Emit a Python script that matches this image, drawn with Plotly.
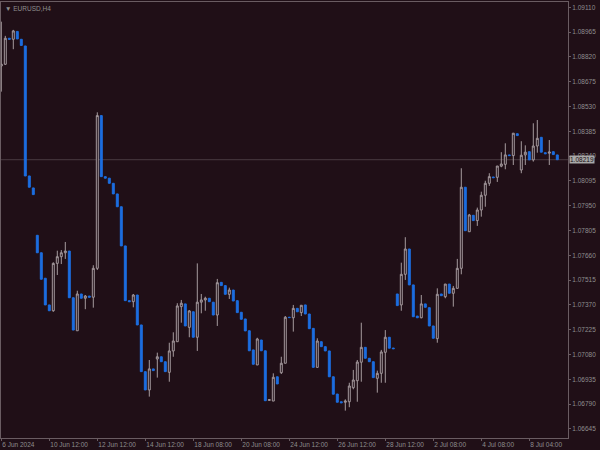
import plotly.graph_objects as go

symbol = "EURUSD,H4"

opens = [1.08767, 1.08777, 1.08929, 1.08923, 1.08969, 1.08923, 1.08884, 1.08124, 1.08054, 1.07777,
         1.07675, 1.07526, 1.07370, 1.07336, 1.07613, 1.07652, 1.07675, 1.07685, 1.07412, 1.07219,
         1.07434, 1.07409, 1.07422, 1.07415, 1.07584, 1.08477, 1.08120, 1.08111, 1.08081, 1.08019,
         1.07944, 1.07715, 1.07395, 1.07389, 1.07428, 1.07253, 1.06980, 1.06873, 1.06996, 1.07054,
         1.07067, 1.07038, 1.06976, 1.07101, 1.07155, 1.07360, 1.07376, 1.07239, 1.07330, 1.07181,
         1.07386, 1.07399, 1.07409, 1.07386, 1.07311, 1.07502, 1.07483, 1.07432, 1.07457, 1.07395,
         1.07327, 1.07288, 1.07219, 1.07107, 1.07019, 1.07165, 1.07102, 1.06812, 1.06808, 1.06950,
         1.06974, 1.07029, 1.07298, 1.07295, 1.07350, 1.07325, 1.07370, 1.07317, 1.07233, 1.07005,
         1.07155, 1.07126, 1.07101, 1.06950, 1.06849, 1.06804, 1.06801, 1.06804, 1.06886, 1.06927,
         1.07035, 1.07122, 1.07058, 1.07038, 1.06941, 1.06970, 1.07093, 1.07181, 1.07118, 1.07434,
         1.07370, 1.07549, 1.07697, 1.07487, 1.07305, 1.07295, 1.07376, 1.07354, 1.07247, 1.07173,
         1.07434, 1.07418, 1.07492, 1.07438, 1.07467, 1.07584, 1.08058, 1.07798, 1.07894, 1.07863,
         1.07925, 1.08011, 1.08081, 1.08118, 1.08116, 1.08181, 1.08192, 1.08247, 1.08243, 1.08371,
         1.08159, 1.08247, 1.08266, 1.08218, 1.08299, 1.08350, 1.08260, 1.08257, 1.08266, 1.08247]

highs = [1.09026, 1.08943, 1.08929, 1.08978, 1.08969, 1.08923, 1.08884, 1.08124, 1.08054, 1.07777,
         1.07675, 1.07526, 1.07370, 1.07619, 1.07687, 1.07691, 1.07738, 1.07685, 1.07412, 1.07453,
         1.07434, 1.07428, 1.07422, 1.07602, 1.08496, 1.08477, 1.08120, 1.08111, 1.08081, 1.08019,
         1.07944, 1.07715, 1.07395, 1.07434, 1.07428, 1.07253, 1.06980, 1.07048, 1.06996, 1.07091,
         1.07067, 1.07038, 1.07149, 1.07210, 1.07380, 1.07399, 1.07376, 1.07340, 1.07330, 1.07613,
         1.07434, 1.07418, 1.07409, 1.07386, 1.07522, 1.07502, 1.07483, 1.07471, 1.07457, 1.07395,
         1.07327, 1.07288, 1.07219, 1.07107, 1.07178, 1.07165, 1.07102, 1.06820, 1.06970, 1.06950,
         1.07067, 1.07305, 1.07300, 1.07370, 1.07350, 1.07368, 1.07370, 1.07317, 1.07233, 1.07175,
         1.07155, 1.07126, 1.07101, 1.06950, 1.06849, 1.06804, 1.06818, 1.06915, 1.06990, 1.07048,
         1.07266, 1.07122, 1.07058, 1.07038, 1.06986, 1.07107, 1.07223, 1.07181, 1.07118, 1.07434,
         1.07617, 1.07766, 1.07697, 1.07487, 1.07305, 1.07428, 1.07376, 1.07354, 1.07247, 1.07467,
         1.07434, 1.07492, 1.07492, 1.07481, 1.07639, 1.08169, 1.08058, 1.07902, 1.07894, 1.07939,
         1.08032, 1.08096, 1.08140, 1.08118, 1.08182, 1.08263, 1.08315, 1.08247, 1.08374, 1.08371,
         1.08327, 1.08303, 1.08266, 1.08432, 1.08451, 1.08350, 1.08260, 1.08334, 1.08266, 1.08247]

lows = [1.08617, 1.08773, 1.08923, 1.08865, 1.08925, 1.08887, 1.08124, 1.08058, 1.08015, 1.07675,
        1.07520, 1.07370, 1.07336, 1.07330, 1.07545, 1.07609, 1.07639, 1.07412, 1.07223, 1.07219,
        1.07409, 1.07345, 1.07415, 1.07354, 1.07574, 1.08120, 1.08111, 1.08081, 1.08019, 1.07944,
        1.07715, 1.07395, 1.07389, 1.07356, 1.07253, 1.06980, 1.06873, 1.06834, 1.06986, 1.06945,
        1.07038, 1.06980, 1.06921, 1.07067, 1.07155, 1.07266, 1.07247, 1.07181, 1.07181, 1.07101,
        1.07321, 1.07336, 1.07389, 1.07311, 1.07247, 1.07483, 1.07432, 1.07405, 1.07393, 1.07325,
        1.07286, 1.07218, 1.07102, 1.07023, 1.07019, 1.07102, 1.06810, 1.06810, 1.06808, 1.06908,
        1.06966, 1.07029, 1.07294, 1.07214, 1.07330, 1.07305, 1.07317, 1.07231, 1.07005, 1.07005,
        1.07126, 1.07101, 1.06950, 1.06848, 1.06801, 1.06798, 1.06752, 1.06772, 1.06877, 1.06804,
        1.06921, 1.07058, 1.07038, 1.06945, 1.06857, 1.06915, 1.06915, 1.07117, 1.07114, 1.07366,
        1.07336, 1.07516, 1.07487, 1.07301, 1.07295, 1.07292, 1.07356, 1.07247, 1.07175, 1.07149,
        1.07424, 1.07409, 1.07438, 1.07360, 1.07467, 1.07549, 1.07804, 1.07798, 1.07863, 1.07832,
        1.07886, 1.07944, 1.08066, 1.08114, 1.08089, 1.08175, 1.08163, 1.08243, 1.08188, 1.08360,
        1.08140, 1.08188, 1.08218, 1.08208, 1.08260, 1.08263, 1.08254, 1.08188, 1.08249, 1.08219]

closes = [1.08777, 1.08929, 1.08923, 1.08972, 1.08925, 1.08887, 1.08124, 1.08058, 1.08015, 1.07675,
          1.07520, 1.07370, 1.07336, 1.07613, 1.07652, 1.07675, 1.07685, 1.07412, 1.07223, 1.07434,
          1.07409, 1.07422, 1.07415, 1.07584, 1.08477, 1.08120, 1.08111, 1.08081, 1.08019, 1.07944,
          1.07715, 1.07395, 1.07389, 1.07428, 1.07253, 1.06980, 1.06873, 1.06996, 1.06986, 1.07067,
          1.07038, 1.06980, 1.07101, 1.07159, 1.07364, 1.07380, 1.07247, 1.07335, 1.07181, 1.07386,
          1.07399, 1.07409, 1.07389, 1.07311, 1.07500, 1.07483, 1.07432, 1.07457, 1.07393, 1.07325,
          1.07286, 1.07218, 1.07102, 1.07023, 1.07171, 1.07102, 1.06810, 1.06816, 1.06947, 1.06908,
          1.07029, 1.07298, 1.07296, 1.07350, 1.07330, 1.07368, 1.07317, 1.07231, 1.07005, 1.07159,
          1.07126, 1.07101, 1.06950, 1.06848, 1.06801, 1.06798, 1.06808, 1.06896, 1.06931, 1.07036,
          1.07122, 1.07058, 1.07038, 1.06945, 1.06970, 1.07095, 1.07181, 1.07117, 1.07114, 1.07366,
          1.07549, 1.07697, 1.07487, 1.07301, 1.07295, 1.07376, 1.07356, 1.07247, 1.07175, 1.07432,
          1.07424, 1.07492, 1.07438, 1.07467, 1.07584, 1.08058, 1.07804, 1.07896, 1.07863, 1.07925,
          1.08011, 1.08081, 1.08120, 1.08114, 1.08182, 1.08194, 1.08247, 1.08243, 1.08374, 1.08360,
          1.08245, 1.08263, 1.08218, 1.08299, 1.08344, 1.08263, 1.08254, 1.08264, 1.08249, 1.08219]

time_label_bars = [0, 12, 24, 36, 48, 60, 72, 84, 96, 108, 120, 132]
time_labels = ["6 Jun 2024", "10 Jun 12:00", "12 Jun 12:00", "14 Jun 12:00", "18 Jun 08:00",
               "20 Jun 08:00", "24 Jun 12:00", "26 Jun 12:00", "28 Jun 12:00", "2 Jul 08:00",
               "4 Jul 08:00", "8 Jul 04:00"]

price_ticks = [1.09110, 1.08965, 1.08820, 1.08675, 1.08530, 1.08385, 1.08240, 1.08095, 1.07950,
               1.07805, 1.07660, 1.07515, 1.07370, 1.07225, 1.07080, 1.06935, 1.06790, 1.06645]
last_price = 1.08219

BG = "#200f17"
BULL = "#a59a9e"
BEAR = "#1c6ee0"
AXIS = "#6a5c62"
TXT = "#8e8e8e"
FONT = "Liberation Sans"

bars = list(range(len(opens)))

fig = go.Figure(go.Candlestick(
    x=bars, open=opens, high=highs, low=lows, close=closes,
    increasing=dict(line=dict(color=BULL, width=1), fillcolor=BG),
    decreasing=dict(line=dict(color=BEAR, width=1), fillcolor=BEAR),
    whiskerwidth=0, hoverinfo="skip", showlegend=False,
))

fig.add_shape(type="line", xref="paper", x0=0, x1=1, yref="y", y0=last_price, y1=last_price,
              line=dict(color="#4a3a42", width=1), layer="below")

fig.add_annotation(xref="paper", x=1, yref="y", y=last_price, xanchor="left", yanchor="middle",
                   text=f"{last_price:.5f}", showarrow=False, bgcolor="#a8a8a8",
                   font=dict(family=FONT, size=6.5, color="#1a0d12"), borderpad=0, xshift=1)

fig.add_annotation(xref="paper", x=0, yref="paper", y=1, xanchor="left", yanchor="top",
                   text="▼ " + symbol, showarrow=False, xshift=2, yshift=-1,
                   font=dict(family=FONT, size=6.5, color=TXT))

fig.update_layout(
    width=600, height=450,
    margin=dict(l=1, r=32, t=2, b=12),
    paper_bgcolor=BG, plot_bgcolor=BG,
    showlegend=False,
    xaxis=dict(
        range=[-0.075, 141.675], rangeslider=dict(visible=False),
        showgrid=False, zeroline=False, showline=True, linecolor=AXIS, linewidth=1, mirror=True,
        tickmode="array", tickvals=time_label_bars, ticktext=time_labels,
        ticks="outside", ticklen=2, tickcolor=AXIS, ticklabelposition="outside right",
        tickfont=dict(family=FONT, size=6.5, color=TXT), automargin=False,
    ),
    yaxis=dict(
        side="right", range=[1.06592, 1.09141],
        showgrid=False, zeroline=False, showline=True, linecolor=AXIS, linewidth=1, mirror=True,
        tickmode="array", tickvals=price_ticks, tickformat=".5f",
        ticks="outside", ticklen=2, tickcolor=AXIS,
        tickfont=dict(family=FONT, size=6.5, color=TXT), automargin=False,
    ),
)

fig.write_html("out.html", config={"displayModeBar": False},
               post_script="document.body.style.margin='0';document.body.style.background='%s';" % BG)
